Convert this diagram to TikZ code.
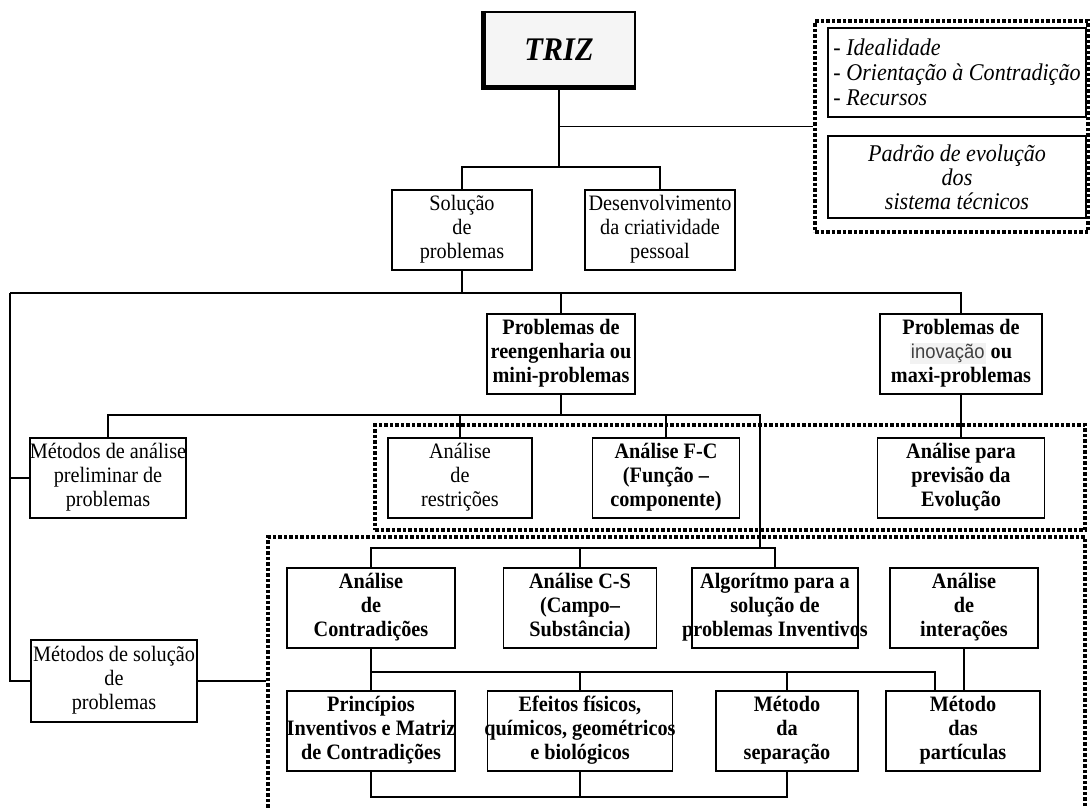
\documentclass[tikz,border=0pt]{standalone}
\usepackage{fontspec}
\setmainfont{Liberation Serif}[FakeStretch=0.92]
\newfontfamily\hlfont{Liberation Sans}[FakeStretch=0.92]
\definecolor{hlgray}{HTML}{F2F2F2}
\definecolor{hltext}{HTML}{404040}
\definecolor{trizfill}{HTML}{F5F5F5}
% highlighted word in a different face
\newcommand{\hlword}[1]{{\setlength{\fboxsep}{1pt}\colorbox{hlgray}{\hlfont\mdseries\fontsize{20}{24}\selectfont\color{hltext}#1}}}
% centred multi-line label that may run past the box edges without widening it
\newcommand{\ml}[1]{\makebox[0pt]{\begin{tabular}{@{}c@{}}#1\end{tabular}}}
\begin{document}
\begin{tikzpicture}[x=1pt,y=-1pt,
  box/.style={draw, line width=1.5pt, fill=white, inner xsep=0pt, inner ysep=0pt,
    minimum width=#1, minimum height=80pt,
    font=\fontsize{22}{24}\selectfont},
  bbox/.style={box=#1, font=\fontsize{22}{24}\selectfont\bfseries},
  conn/.style={line width=1.5pt},
  frame/.style={draw, line width=3.2pt, dash pattern=on 3.5pt off 2pt, inner sep=0pt},
]
\useasboundingbox (0,0) rectangle (1090,807);

% dotted groupings
\node[frame, minimum width=273pt, minimum height=211pt] (dotA) at (951.5,126.5) {};
\node[frame, minimum width=710pt, minimum height=105pt] (dotB) at (730,477.5) {};
\node[frame, minimum width=817pt, minimum height=288pt] (dotC) at (676.5,681) {};

% principles and evolution pattern
\node[draw, line width=1.5pt, minimum width=258pt, minimum height=89pt, inner sep=0pt] (princbox) at (957,72.5) {};
\node[anchor=west, align=left, font=\fontsize{24}{25}\selectfont\itshape, inner sep=0pt]
  (princtxt) at ([xshift=6pt]princbox.west) {- Idealidade\\- Orientação à Contradição\\- Recursos};
\node[draw, line width=1.5pt, minimum width=258pt, minimum height=82pt, inner sep=0pt,
  align=center, font=\fontsize{24}{24}\selectfont\itshape] (evol) at (957,177)
  {Padrão de evolução\\dos\\sistema técnicos};

% title
\node[draw, line width=2.5pt, fill=trizfill, minimum width=152pt, minimum height=76pt,
  inner sep=0pt, font=\fontsize{33}{36}\selectfont\bfseries\itshape] (triz) at (559,50) {TRIZ};
\draw[line width=5pt] ([xshift=1.5pt]triz.north west) |- ([yshift=1.5pt]triz.south east);

% connector junctions
\coordinate (T) at (559,167);
\coordinate (L) at (10,293);
\coordinate (M) at (760,415);
\coordinate (N) at (760,548);
\coordinate (Q) at (935,672);
\coordinate (B) at (0,797);

% boxes
\node[box=140pt] (sol) at (462,230) {\ml{Solução\\de\\problemas}};
\node[box=150pt] (des) at (660,230) {\ml{Desenvolvimento\\da criatividade\\pessoal}};
\node[bbox=148pt] (reen) at (561,354) {\ml{Problemas de\\reengenharia ou\\mini-problemas}};
\node[bbox=162pt] (inov) at (961,354) {\ml{Problemas de\\\hlword{inovação} ou\\maxi-problemas}};
\node[box=156pt] (mana) at (108,478) {\ml{Métodos de análise\\preliminar de\\problemas}};
\node[box=144pt] (restr) at (460,478) {\ml{Análise\\de\\restrições}};
\node[bbox=147pt] (fc) at (666,478) {\ml{Análise F-C\\(Função –\\componente)}};
\node[bbox=167pt] (prev) at (961,478) {\ml{Análise para\\previsão da\\Evolução}};
\node[bbox=168pt] (contr) at (371,608) {\ml{Análise\\de\\Contradições}};
\node[bbox=153pt] (cs) at (580,608) {\ml{Análise C-S\\(Campo–\\Substância)}};
\node[bbox=166pt] (alg) at (775,608) {\ml{Algorítmo para a\\solução de\\problemas Inventivos}};
\node[bbox=148pt] (inter) at (964,608) {\ml{Análise\\de\\interações}};
\node[bbox=168pt] (princ) at (371,731) {\ml{Princípios\\Inventivos e Matriz\\de Contradições}};
\node[bbox=185pt] (efe) at (580,731) {\ml{Efeitos físicos,\\químicos, geométricos\\e biológicos}};
\node[bbox=142pt] (sep) at (787,731) {\ml{Método\\da\\separação}};
\node[bbox=154pt] (part) at (963,731) {\ml{Método\\das\\partículas}};
\node[box=166pt, minimum height=82pt] (msol) at (114,681) {\ml{Métodos de solução\\de\\problemas}};

% connectors
\draw[conn] (triz.south) -- (T);
\draw[conn] (sol.north) |- (T) -| (des.north);
\draw[conn] (triz.south |- dotA.west) -- (dotA.west);
\draw[conn] (sol.south) -- (sol.south |- L);
\draw[conn] (L) -| (inov.north);
\draw[conn] (reen.north |- L) -- (reen.north);
\draw[conn] (L) |- (msol.west);
\draw[conn] (L |- mana.west) -- (mana.west);
\draw[conn] (reen.south) -- (reen.south |- M);
\draw[conn] (mana.north) |- (M) -- (N);
\draw[conn] (restr.north |- M) -- (restr.north);
\draw[conn] (fc.north |- M) -- (fc.north);
\draw[conn] (inov.south) -- (prev.north);
\draw[conn] (contr.north) |- (N) -| (alg.north);
\draw[conn] (cs.north |- N) -- (cs.north);
\draw[conn] (contr.south) -- (princ.north);
\draw[conn] (contr.south |- Q) -- (Q) -- (Q |- part.north);
\draw[conn] (efe.north |- Q) -- (efe.north);
\draw[conn] (sep.north |- Q) -- (sep.north);
\draw[conn] (inter.south) -- (inter.south |- part.north);
\draw[conn] (princ.south) |- (B -| sep.south) -- (sep.south);
\draw[conn] (efe.south) -- (efe.south |- B);
\draw[conn] (msol.east) -- (msol.east -| dotC.west);
\end{tikzpicture}
\end{document}
